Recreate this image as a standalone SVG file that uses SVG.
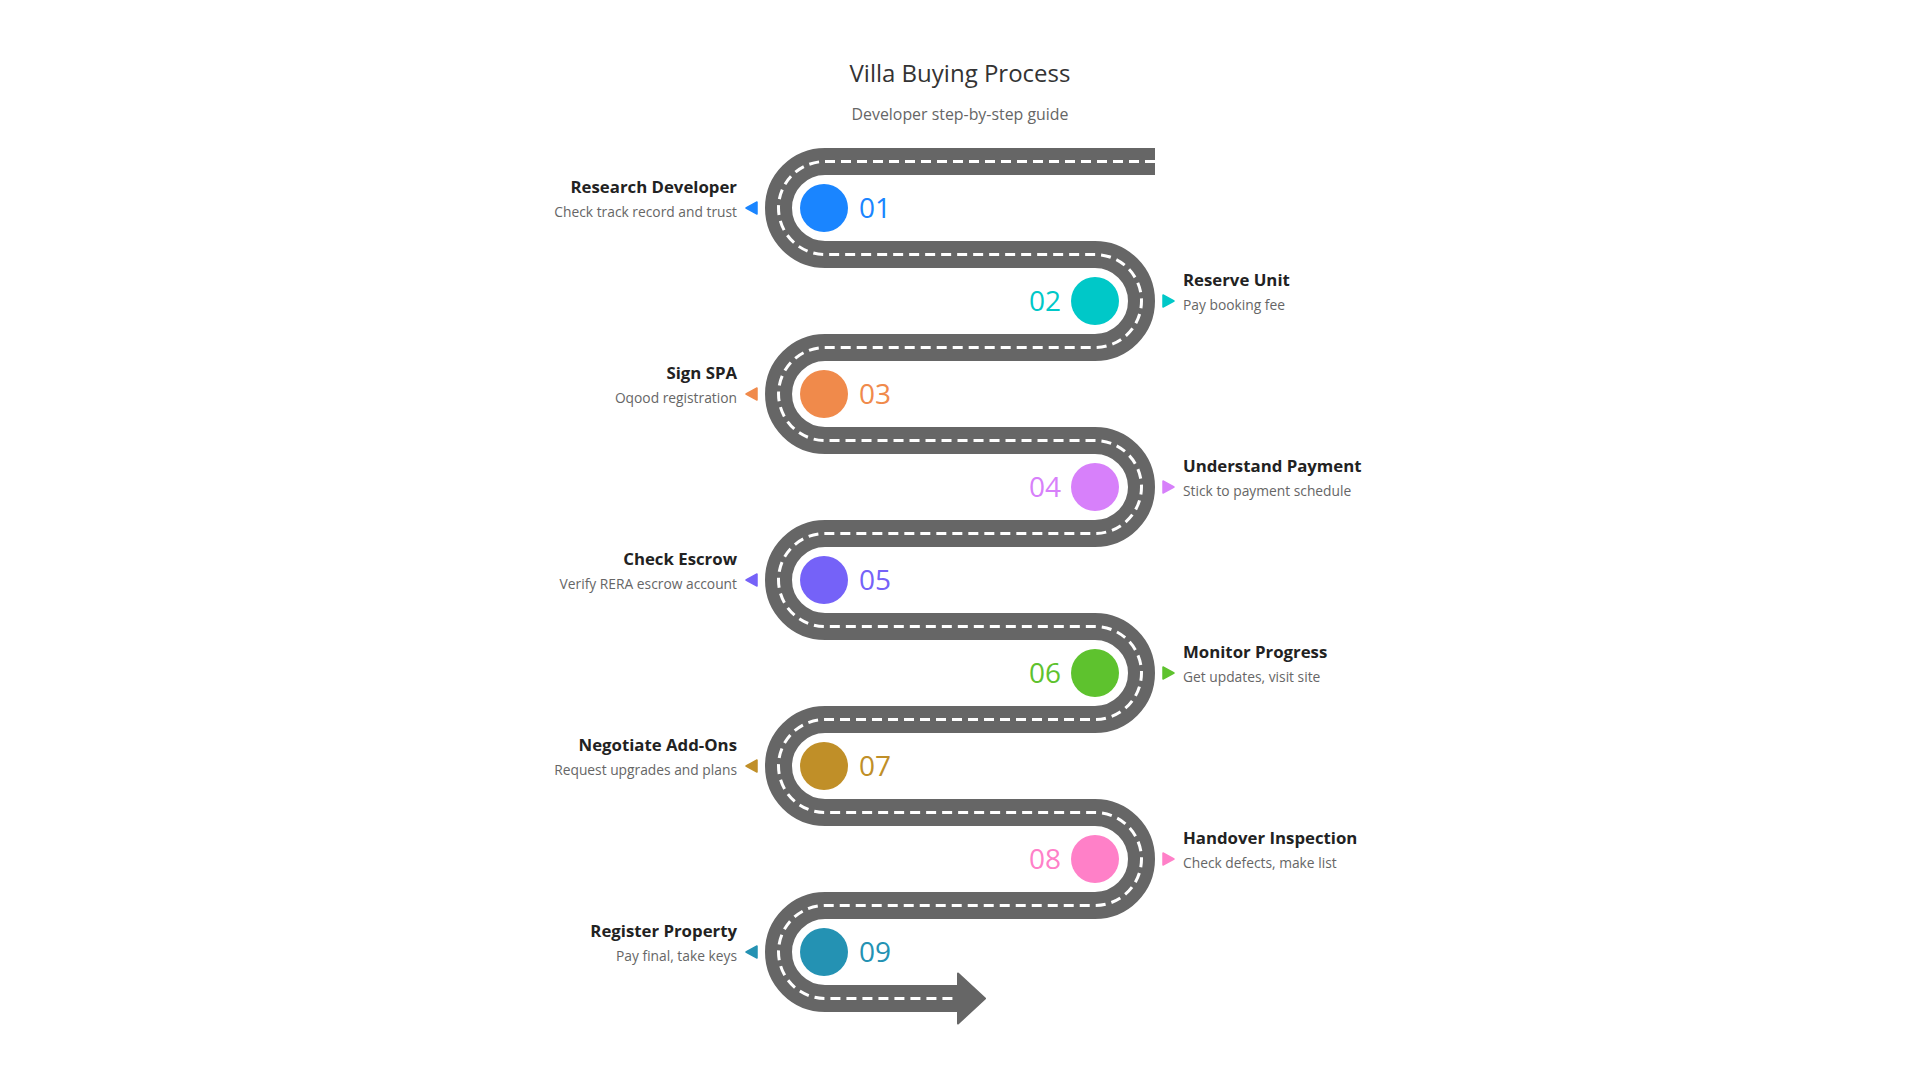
<svg xmlns="http://www.w3.org/2000/svg" width="1920" height="1080" viewBox="0 0 1920 1080">
<style>
.road{fill:none;stroke:#666666;stroke-width:27}
.lane{fill:none;stroke:#ffffff;stroke-width:3;stroke-dasharray:10 6}
.num{font-family:"Open Sans","Noto Sans",sans-serif;font-size:28px}
.lt{font-family:"Open Sans","Noto Sans",sans-serif;font-size:16.8px;font-weight:700;fill:#222222}
.ls{font-family:"Open Sans","Noto Sans",sans-serif;font-size:13.8px;fill:#666666}
.title{font-family:"Open Sans","Noto Sans",sans-serif;font-size:24px;fill:#333333}
.sub{font-family:"Open Sans","Noto Sans",sans-serif;font-size:15.9px;fill:#666666}
.l{text-anchor:end}
</style>
<rect width="1920" height="1080" fill="#ffffff"/>
<text class="title" x="960" y="82" text-anchor="middle">Villa Buying Process</text>
<text class="sub" x="960" y="120" text-anchor="middle">Developer step-by-step guide</text>
<g id="connectors">
<path class="road" d="M1155,161.5 H825 A46.5,46.5 0 0 0 825,254.5 H1095 A46.5,46.5 0 0 1 1095,347.5 H825 A46.5,46.5 0 0 0 825,440.5 H1095 A46.5,46.5 0 0 1 1095,533.5 H825 A46.5,46.5 0 0 0 825,626.5 H1095 A46.5,46.5 0 0 1 1095,719.5 H825 A46.5,46.5 0 0 0 825,812.5 H1095 A46.5,46.5 0 0 1 1095,905.5 H825 A46.5,46.5 0 0 0 825,998.5 H959"/>
<path class="lane" d="M1155,161.5 H825 A46.5,46.5 0 0 0 825,254.5 H1095 A46.5,46.5 0 0 1 1095,347.5 H825 A46.5,46.5 0 0 0 825,440.5 H1095 A46.5,46.5 0 0 1 1095,533.5 H825 A46.5,46.5 0 0 0 825,626.5 H1095 A46.5,46.5 0 0 1 1095,719.5 H825 A46.5,46.5 0 0 0 825,812.5 H1095 A46.5,46.5 0 0 1 1095,905.5 H825 A46.5,46.5 0 0 0 825,998.5 H958"/>
<polygon points="958,973.5 985,998.5 958,1023.5" fill="#666666" stroke="#666666" stroke-width="2" stroke-linejoin="round"/>
</g>
<g id="step01">
<circle cx="824" cy="208" r="24" fill="#1a85ff"/>
<text class="num" x="859" y="218" fill="#1a85ff">01</text>
<polygon points="746,208 757,202 757,214" fill="#1a85ff" stroke="#1a85ff" stroke-width="1.5" stroke-linejoin="round"/>
<text class="lt l" x="737" y="193">Research Developer</text>
<text class="ls l" x="737" y="217">Check track record and trust</text>
</g>
<g id="step02">
<circle cx="1095" cy="301" r="24" fill="#00c8c8"/>
<text class="num" x="1061" y="311" fill="#00c8c8" text-anchor="end">02</text>
<polygon points="1174,301 1163,295 1163,307" fill="#00c8c8" stroke="#00c8c8" stroke-width="1.5" stroke-linejoin="round"/>
<text class="lt" x="1183" y="286">Reserve Unit</text>
<text class="ls" x="1183" y="310">Pay booking fee</text>
</g>
<g id="step03">
<circle cx="824" cy="394" r="24" fill="#f08a4b"/>
<text class="num" x="859" y="404" fill="#f08a4b">03</text>
<polygon points="746,394 757,388 757,400" fill="#f08a4b" stroke="#f08a4b" stroke-width="1.5" stroke-linejoin="round"/>
<text class="lt l" x="737" y="379">Sign SPA</text>
<text class="ls l" x="737" y="403">Oqood registration</text>
</g>
<g id="step04">
<circle cx="1095" cy="487" r="24" fill="#d780fa"/>
<text class="num" x="1061" y="497" fill="#d780fa" text-anchor="end">04</text>
<polygon points="1174,487 1163,481 1163,493" fill="#d780fa" stroke="#d780fa" stroke-width="1.5" stroke-linejoin="round"/>
<text class="lt" x="1183" y="472">Understand Payment</text>
<text class="ls" x="1183" y="496">Stick to payment schedule</text>
</g>
<g id="step05">
<circle cx="824" cy="580" r="24" fill="#7562f8"/>
<text class="num" x="859" y="590" fill="#7562f8">05</text>
<polygon points="746,580 757,574 757,586" fill="#7562f8" stroke="#7562f8" stroke-width="1.5" stroke-linejoin="round"/>
<text class="lt l" x="737" y="565">Check Escrow</text>
<text class="ls l" x="737" y="589">Verify RERA escrow account</text>
</g>
<g id="step06">
<circle cx="1095" cy="673" r="24" fill="#5ec22e"/>
<text class="num" x="1061" y="683" fill="#5ec22e" text-anchor="end">06</text>
<polygon points="1174,673 1163,667 1163,679" fill="#5ec22e" stroke="#5ec22e" stroke-width="1.5" stroke-linejoin="round"/>
<text class="lt" x="1183" y="658">Monitor Progress</text>
<text class="ls" x="1183" y="682">Get updates, visit site</text>
</g>
<g id="step07">
<circle cx="824" cy="766" r="24" fill="#c08f28"/>
<text class="num" x="859" y="776" fill="#c08f28">07</text>
<polygon points="746,766 757,760 757,772" fill="#c08f28" stroke="#c08f28" stroke-width="1.5" stroke-linejoin="round"/>
<text class="lt l" x="737" y="751">Negotiate Add-Ons</text>
<text class="ls l" x="737" y="775">Request upgrades and plans</text>
</g>
<g id="step08">
<circle cx="1095" cy="859" r="24" fill="#ff80c8"/>
<text class="num" x="1061" y="869" fill="#ff80c8" text-anchor="end">08</text>
<polygon points="1174,859 1163,853 1163,865" fill="#ff80c8" stroke="#ff80c8" stroke-width="1.5" stroke-linejoin="round"/>
<text class="lt" x="1183" y="844">Handover Inspection</text>
<text class="ls" x="1183" y="868">Check defects, make list</text>
</g>
<g id="step09">
<circle cx="824" cy="952" r="24" fill="#2492b3"/>
<text class="num" x="859" y="962" fill="#2492b3">09</text>
<polygon points="746,952 757,946 757,958" fill="#2492b3" stroke="#2492b3" stroke-width="1.5" stroke-linejoin="round"/>
<text class="lt l" x="737" y="937">Register Property</text>
<text class="ls l" x="737" y="961">Pay final, take keys</text>
</g>
</svg>
